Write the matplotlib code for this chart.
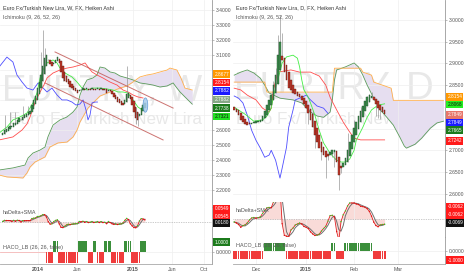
import numpy as np
import pandas as pd
import matplotlib
matplotlib.use('Agg')
import matplotlib.pyplot as plt
from matplotlib.patches import Ellipse
from matplotlib.ticker import FormatStrFormatter

plt.rcParams['font.family'] = ['Liberation Sans', 'DejaVu Sans']

W, H = 466, 275

# ---------------- weekly chart (bar 0 = week of 2013-08-19) ----------------
w_start = '2013-08-19'
w_close = [2.58, 2.60, 2.61, 2.62, 2.63, 2.63, 2.65, 2.65, 2.67, 2.68,
           2.67, 2.69, 2.70, 2.71, 2.72, 2.73, 2.77, 2.80, 2.83, 2.88,
           2.92, 2.97, 3.03, 3.08, 3.10, 3.07, 3.04, 3.03, 3.05, 3.07,
           3.09, 3.05, 2.99, 2.95, 2.93, 2.92, 2.91, 2.89, 2.88, 2.87,
           2.86, 2.85, 2.87, 2.87, 2.88, 2.87, 2.88, 2.87, 2.87, 2.88,
           2.87, 2.87, 2.88, 2.87, 2.88, 2.87, 2.87, 2.85, 2.87, 2.86,
           2.84, 2.82, 2.81, 2.79, 2.78, 2.77, 2.77, 2.80, 2.84, 2.85,
           2.81, 2.77, 2.72, 2.68, 2.67, 2.71, 2.75, 2.77, 2.78]
w_high = {1: 2.70, 4: 2.72, 7: 2.72, 11: 2.76, 14: 2.76, 21: 3.12, 22: 3.27,
          23: 3.15, 68: 3.03}
w_low = {33: 2.93, 73: 2.645, 74: 2.63}

w_red_x = [-2, 5.6, 10.6, 13.3, 15, 16.6, 18.3, 20.5, 22.6, 24.3, 27.6, 31.4, 35.3,
           38.6, 42.4, 45.2, 46.8, 49, 51.7, 55, 58.9, 62.7, 66, 68.8, 71.5, 74.2, 77]
w_red_y = [2.536, 2.556, 2.602, 2.642, 2.689, 2.748, 2.802, 2.855, 2.901, 2.948, 2.981,
           3.001, 3.014, 3.021, 3.034, 3.048, 3.021, 2.988, 2.968, 2.948, 2.921, 2.901,
           2.868, 2.855, 2.835, 2.822, 2.815]
w_lime_x = [-2, 2.3, 5.6, 9.5, 13.3, 16.6, 18.8, 20.5, 22.1, 24.3, 27.6, 29.8, 31.4, 34.2,
            38, 40.8, 43.5, 46.3, 49.5, 53.4, 57.2, 60.5, 63.3, 66, 68.8, 71.5, 74.2, 77]
w_lime_y = [2.582, 2.622, 2.669, 2.689, 2.715, 2.782, 2.848, 2.948, 3.001, 3.048, 3.068,
            3.048, 3.014, 2.981, 2.955, 2.921, 2.881, 2.868, 2.881, 2.881, 2.875, 2.868,
            2.855, 2.855, 2.848, 2.802, 2.755, 2.732]
w_blue_x = [-2, 2.3, 5.6, 7.8, 10.6, 13.3, 16.6, 19.4, 21.6, 24.3, 27, 29.8, 32.5, 35.3,
            38, 40.2, 42.4, 44.1, 45.7, 46.8, 47.9, 49, 50.7, 52]
w_blue_y = [3.021, 3.087, 3.054, 2.968, 2.921, 2.881, 2.868, 2.915, 2.888, 2.855, 2.881,
            2.835, 2.802, 2.802, 2.788, 2.768, 2.775, 2.802, 2.735, 2.669, 2.702, 2.782,
            2.788, 2.788]
w_spanA_x = [-2, 5.6, 12.2, 13.9, 16.6, 20.5, 23.2, 24.8, 27.6, 31.4, 35.3, 38.6, 40.8,
             42.4, 44.1, 46.3, 49.5, 51.7, 53.4, 56.1, 58.9, 61.6, 64.4, 68.2, 71.5, 75.3,
             79.2, 82.5, 86.3, 90.2, 93.5, 95.6, 97.3, 100, 104]
w_spanA_y = [2.336, 2.350, 2.369, 2.416, 2.449, 2.469, 2.489, 2.556, 2.635, 2.669, 2.689,
             2.722, 2.755, 2.835, 2.888, 2.935, 2.948, 2.968, 3.021, 3.014, 2.988, 2.981,
             2.961, 2.948, 2.935, 2.915, 2.908, 2.901, 2.888, 2.895, 2.915, 2.881, 2.855,
             2.822, 2.774]
w_spanB_x = [-2, 2.3, 11.1, 13.3, 15, 17.7, 23.2, 25.9, 30.3, 35.3, 38.6, 40.8, 42.4, 44.6,
             46.8, 49.5, 53.4, 58.9, 64.4, 68.2, 71.5, 75.3, 79.2, 82.5, 86.3, 90.2, 91.8,
             95.6, 97.8, 100, 104]
w_spanB_y = [2.303, 2.290, 2.283, 2.316, 2.356, 2.389, 2.423, 2.489, 2.516, 2.522, 2.556,
             2.602, 2.655, 2.702, 2.748, 2.782, 2.828, 2.855, 2.881, 2.895, 2.921, 2.955,
             2.968, 2.975, 2.988, 3.001, 3.014, 3.001, 2.948, 2.881, 2.868]
w_chan_up = ([28.7, 93.5], [3.121, 2.748])
w_chan_lo = ([23.2, 88.0], [2.915, 2.536])
w_ellipse = (78.3, 2.768)

w_haco = [0, 0, 0, 0, 0, 0, 0, 0, 0, 0, 0, 0, 0, 0, 0, 0, 0, 0, 0, 0, 0, 0, 0, 0,
          -1, -1, -1, -1, 1, 1, 1, -1, -1, -1, -1, -1, -1, -1, -1, -1, -1, -1,
          1, 1, 1, 1, 1, -1, -1, -1, 1, 1, -1, -1, -1, -1, 1, 1, 1, 1,
          -1, -1, -1, -1, -1, -1, -1, 1, 1, 1, 1, -1, -1, -1, -1, -1, 1, 1, 1]

w_tick_dates = ['2014-01-01', '2014-06-01', '2015-01-01', '2015-06-01', '2015-10-01']
w_tick_labels = ['2014', 'Jun', '2015', 'Jun', 'Oct']
w_price_ticks = [2.2, 2.3, 2.4, 2.5, 2.6, 3.1, 3.2, 3.3, 3.4]
w_hidden_ticks = [2.7, 2.8, 2.9, 3.0]
w_boxes = [('2.8677', '#ff9800', 'white'), ('2.8154', '#ff1a1a', 'white'),
           ('2.7882', '#1a1aff', 'white'), ('2.7882', '#86a886', 'white'),
           ('2.7738', '#1b7a1b', 'white'), ('2.7321', '#22e022', '#111')]
w_hd_boxes = [('0.0549', '#ff1a1a', 'white'), ('0.0545', '#ff1a1a', 'white'),
              ('0.0180', '#111111', 'white')]

# ---------------- daily chart (bar 0 = 2014-11-17, business days) ----------------
d_start = '2014-11-17'
d_close = [2.793, 2.788, 2.781, 2.770, 2.765, 2.760, 2.758, 2.760, 2.763, 2.765,
           2.765, 2.767, 2.770, 2.779, 2.790, 2.804, 2.816, 2.827, 2.850, 2.873,
           2.919, 2.949, 2.908, 2.880, 2.862, 2.843, 2.839, 2.832, 2.829, 2.825,
           2.822, 2.816, 2.806, 2.797, 2.786, 2.770, 2.753, 2.735, 2.719, 2.705,
           2.696, 2.689, 2.684, 2.687, 2.696, 2.700, 2.700, 2.673, 2.643, 2.659,
           2.670, 2.682, 2.700, 2.719, 2.735, 2.751, 2.765, 2.779, 2.790, 2.802,
           2.813, 2.822, 2.827, 2.825, 2.816, 2.806, 2.797, 2.793, 2.788, 2.783]
d_high = {18: 2.86, 19: 2.89, 20: 2.965, 21: 3.011, 22: 2.97, 23: 2.91, 24: 2.88,
          34: 2.80, 36: 2.79, 52: 2.74, 55: 2.77, 58: 2.80, 61: 2.825, 62: 2.83, 63: 2.835}
d_low = {34: 2.76, 37: 2.705, 40: 2.677, 42: 2.636, 43: 2.677, 45: 2.684, 46: 2.661,
         48: 2.608, 49: 2.647, 65: 2.78, 66: 2.775, 67: 2.772}

d_red_x = [0, 3, 6, 10, 13, 16, 17, 18, 20, 26, 30, 35, 39, 42, 44, 47, 50, 53, 55, 58, 64, 69]
d_red_y = [2.843, 2.839, 2.827, 2.816, 2.797, 2.788, 2.797, 2.839, 2.880, 2.885, 2.880,
           2.880, 2.871, 2.850, 2.822, 2.793, 2.765, 2.742, 2.728, 2.724, 2.724, 2.724]
d_blue_x = [0, 2, 4, 6, 8, 10, 12, 14, 16, 17, 19, 21, 22, 24, 25, 27, 28, 31, 33, 35,
            38, 41, 43]
d_blue_y = [2.825, 2.820, 2.809, 2.781, 2.746, 2.723, 2.705, 2.684, 2.689, 2.700, 2.677,
            2.636, 2.659, 2.707, 2.753, 2.793, 2.816, 2.822, 2.827, 2.816, 2.802, 2.797,
            2.785]
d_lime_x = [0, 5, 9, 13, 15, 17, 18, 20, 22, 24, 27, 29, 30, 31, 32, 34, 35, 37, 39, 41,
            44, 47, 49, 51, 53, 55, 56, 59, 61, 63, 66, 69]
d_lime_y = [2.799, 2.783, 2.767, 2.770, 2.779, 2.797, 2.825, 2.862, 2.901, 2.915, 2.919,
            2.912, 2.892, 2.862, 2.839, 2.822, 2.809, 2.781, 2.746, 2.717, 2.693, 2.677,
            2.673, 2.673, 2.680, 2.700, 2.723, 2.753, 2.776, 2.793, 2.804, 2.807]
d_spanA_x = [0, 3, 6, 9, 12, 14, 16, 21, 27, 31, 35, 38, 41, 44, 45, 46, 47, 51, 55, 57,
             59, 61, 64, 67, 70, 73, 76, 78, 79, 83, 86, 90, 93, 96]
d_spanA_y = [2.873, 2.880, 2.885, 2.878, 2.866, 2.850, 2.832, 2.820, 2.816, 2.809, 2.788,
             2.779, 2.776, 2.788, 2.816, 2.862, 2.885, 2.892, 2.901, 2.892, 2.873, 2.850,
             2.820, 2.793, 2.776, 2.758, 2.730, 2.710, 2.705, 2.714, 2.728, 2.751, 2.763,
             2.767]
d_spanB_x = [0, 14, 15, 45, 46, 58, 59, 63, 64, 72, 73, 96]
d_spanB_y = [2.857, 2.857, 2.834, 2.834, 2.889, 2.889, 2.880, 2.873, 2.857, 2.843, 2.815,
             2.815]

d_haco = [-1, -1, -1, -1, -1, -1, -1, -1, -1, -1, -1, -1, -1, -1,
          1, 1, 1, 1, 1, 1, 1, 1, 1, 1,
          -1, -1, -1, -1, -1, -1, -1, -1, -1, -1, -1, -1, -1, -1, -1, -1, -1, -1, -1, -1, -1,
          1, 1, -1, -1, -1, -1,
          1, 1, 1, 1, 1, 1, 1, 1, 1, 1, 1, 1, 1,
          -1, -1, -1, -1, -1, -1]

d_tick_dates = ['2014-12-01', '2015-01-01', '2015-02-02', '2015-03-02']
d_tick_labels = ['Dec', '2015', 'Feb', 'Mar']
d_price_ticks = [2.60, 2.65, 2.70, 2.85, 2.90, 2.95, 3.00]
d_hidden_ticks = [2.75, 2.80]
d_boxes = [('2.8154', '#ff9800', 'white'), ('2.8068', '#22ee22', '#111'),
           ('2.7849', '#e8766a', 'white'), ('2.7849', '#1a1aff', 'white'),
           ('2.7665', '#1b7a1b', 'white'), ('2.7242', '#ff1a1a', 'white')]
d_hd_boxes = [('-0.0062', '#ff1a1a', 'white'), ('-0.0062', '#ff1a1a', 'white'),
              ('-0.0069', '#111111', 'white')]

GREEN = '#3e8e4e'
RED = '#c4392a'
CLOUD = '#e6def0'
GRID = '#efefef'


def px_axes(x0, y0, x1, y1):
    ax = fig.add_axes([x0 / W, 1 - y1 / H, (x1 - x0) / W, (y1 - y0) / H])
    for s in ('top', 'left'):
        ax.spines[s].set_visible(False)
    ax.spines['right'].set_color('#9a9a9a')
    ax.spines['bottom'].set_color('#a8a8a8')
    ax.spines['right'].set_linewidth(0.6)
    ax.spines['bottom'].set_linewidth(0.6)
    ax.yaxis.tick_right()
    ax.tick_params(axis='y', labelsize=3.6, length=1.5, width=0.4, pad=1,
                   colors='#8a8a8a', labelcolor='#555555')
    ax.tick_params(axis='x', length=0, labelsize=3.8, labelcolor='#555555', pad=2)
    ax.set_facecolor('white')
    return ax


def price_axis(ax, shown, hidden):
    # price levels hidden under the value boxes keep only their grid line
    ax.set_yticks(shown)
    ax.yaxis.set_major_formatter(FormatStrFormatter('%.4f'))
    for v in hidden:
        ax.axhline(v, color=GRID, lw=0.5, zorder=0)


def ha_opens(closes, first_open):
    opens = [first_open]
    for i in range(1, len(closes)):
        opens.append((opens[-1] + closes[i - 1]) / 2)
    return np.array(opens)


def draw_candles(ax, closes, opens, hi, lo, width):
    c = np.array(closes)
    idx = np.arange(len(c))
    up = c >= opens
    bot = np.minimum(opens, c)
    top = np.maximum(opens, c)
    for i in idx:
        h = max(top[i], hi.get(i, top[i]))
        l = min(bot[i], lo.get(i, bot[i]))
        if h > top[i] or l < bot[i]:
            ax.vlines(i, l, h, color='#8c8c8c', lw=0.45, zorder=4)
    hgt = np.maximum(top - bot, 0.003)
    ax.bar(idx, hgt, bottom=bot, width=width,
           color=[GREEN if u else RED for u in up],
           edgecolor=['#1f4f2a' if u else '#5a1a12' for u in up],
           linewidth=0.3, zorder=5)


def price_boxes(ax, boxes, ypx, ax_h_px, ax_w_px, size=3.4):
    for (txt, fc, tc), y in zip(boxes, ypx):
        ax.text(1 + 2.5 / ax_w_px, 1 - y / ax_h_px, txt, transform=ax.transAxes,
                fontsize=size, color=tc, ha='left', va='center', zorder=20,
                clip_on=False,
                bbox=dict(boxstyle='square,pad=0.22', fc=fc, ec='none'))


def grid(ax, ticks):
    ax.set_xticks(ticks)
    ax.grid(True, axis='both', color=GRID, lw=0.5, zorder=0)


def hadelta_panel(ax, closes, opens, ylim):
    delta = np.array(closes) - opens
    sma = pd.Series(delta).rolling(3, min_periods=1).mean().values
    idx = np.arange(len(delta))
    ax.fill_between(idx, delta, 0, color='#f7cfcc', alpha=0.75, lw=0, zorder=1)
    ax.axhline(0, color='#9a9a9a', lw=0.5, ls=(0, (1, 1.5)), zorder=2)
    ax.plot(idx, sma, color='#707070', lw=0.7, zorder=3)
    ax.plot(idx, delta, color='#e02020', lw=0.6, zorder=4)
    rising = np.r_[True, np.diff(delta) >= 0]
    ax.scatter(idx, delta, s=0.9, c=np.where(rising, '#22dd22', '#e01010'),
               lw=0, zorder=5)
    ax.set_ylim(*ylim)
    ax.set_yticks([])


def haco_panel(ax, vals, ylim, width):
    v = np.array(vals)
    idx = np.arange(len(v))
    colors = np.where(v > 0, '#3b8f3b', '#f03c3c')
    m = v != 0
    ax.bar(idx[m], v[m], width=width, color=colors[m], edgecolor='none', zorder=3)
    ax.set_ylim(*ylim)


fig = plt.figure(figsize=(W / 100, H / 100), dpi=100)

# =============== LEFT: weekly ===============
w0 = pd.Timestamp(w_start)
w_ticks = [(pd.Timestamp(d) - w0).days / 7 for d in w_tick_dates]
w_xlim = (-1.5, 114.85)
w_open = ha_opens(w_close, w_close[0] - 0.01)

axL = px_axes(0, 0, 212, 207)
grid(axL, w_ticks)
axL.set_xticklabels([])
axL.set_xlim(*w_xlim)
axL.set_ylim(2.0902, 3.4665)
price_axis(axL, w_price_ticks, w_hidden_ticks)

axL.text(2 / 212, 1 - 91 / 207, 'EURTRY, W', transform=axL.transAxes, fontsize=26.5,
         color='#e8e8e8', ha='left', va='center', zorder=0.5)
axL.text(9 / 212, 1 - 120 / 207, 'Euro Fx/Turkish New Lira', transform=axL.transAxes,
         fontsize=12.3, color='#e8e8e8', ha='left', va='center', zorder=0.5)
axL.text(3 / 212, 1 - 8 / 207, 'Euro Fx/Turkish New Lira, W, FX, Heiken Ashi',
         transform=axL.transAxes, fontsize=3.9, color='#333333', va='center', zorder=20)
axL.text(3 / 212, 1 - 17 / 207, 'Ichimoku (9, 26, 52, 26)', transform=axL.transAxes,
         fontsize=3.9, color='#555555', va='center', zorder=20)

gx = np.linspace(w_spanA_x[0], w_spanA_x[-1], 400)
ga = np.interp(gx, w_spanA_x, w_spanA_y)
gb = np.interp(gx, w_spanB_x, w_spanB_y)
axL.fill_between(gx, ga, gb, color=CLOUD, lw=0, zorder=1)
axL.plot(w_spanA_x, w_spanA_y, color='#5a9a5a', lw=0.6, zorder=2)
axL.plot(w_spanB_x, w_spanB_y, color='#ffae4a', lw=0.6, zorder=2)
axL.plot(w_blue_x, w_blue_y, color='#4d4dff', lw=0.6, zorder=3)
axL.plot(w_red_x, w_red_y, color='#ff4d4d', lw=0.6, zorder=3)
axL.plot(w_lime_x, w_lime_y, color='#44ee44', lw=0.6, zorder=3)
draw_candles(axL, w_close, w_open, w_high, w_low, 0.72)
axL.plot(*w_chan_up, color='#c0504d', lw=0.7, alpha=0.8, zorder=6)
axL.plot(*w_chan_lo, color='#c0504d', lw=0.7, alpha=0.8, zorder=6)
axL.add_patch(Ellipse(w_ellipse, 2.6, 0.095, fc='#a9cbee', ec='#4f8fd0', lw=0.5,
                      alpha=0.85, zorder=7))
price_boxes(axL, w_boxes, [74, 82.5, 91, 99.5, 108, 116.5], 207, 212)

axLd = px_axes(0, 207, 212, 238)
grid(axLd, w_ticks)
axLd.set_xticklabels([])
axLd.set_xlim(*w_xlim)
hadelta_panel(axLd, w_close, w_open, (-0.22, 0.21))
axLd.text(3 / 212, 1 - 6 / 31, 'haDelta+SMA', transform=axLd.transAxes, fontsize=3.9,
          color='#555555', va='center', zorder=20)
price_boxes(axLd, w_hd_boxes, [2, 9, 16], 31, 212)

axLh = px_axes(0, 238, 212, 264)
grid(axLh, w_ticks)
axLh.set_xlim(*w_xlim)
haco_panel(axLh, w_haco, (-1.09, 1.27), 0.85)
axLh.plot([-1.5, 23.5], [0, 0], color='#f6b8b8', lw=0.6, zorder=2)
axLh.set_yticks([0])
axLh.yaxis.set_major_formatter(FormatStrFormatter('%.4f'))
axLh.set_xticklabels(w_tick_labels)
for lab in axLh.get_xticklabels():
    if lab.get_text().isdigit():
        lab.set_fontweight('bold')
axLh.text(3 / 212, 1 - 9 / 26, 'HACO_LB (26, 26, false)', transform=axLh.transAxes,
          fontsize=3.9, color='#555555', va='center', zorder=20)
price_boxes(axLh, [('1.0000', '#1b7a1b', 'white')], [4], 26, 212)

# =============== RIGHT: daily ===============
d0 = np.datetime64(d_start)
d_ticks = [int(np.busday_count(d0, np.datetime64(d))) for d in d_tick_dates]
d_xlim = (-0.55, 96.7)
d_open = ha_opens(d_close, d_close[0] + 0.006)

axR = px_axes(233, 0, 445, 202)
grid(axR, d_ticks)
axR.set_xticklabels([])
axR.set_xlim(*d_xlim)
axR.set_ylim(2.581, 3.046)
price_axis(axR, d_price_ticks, d_hidden_ticks)

axR.text(1 / 212, 1 - 89 / 202, 'EURTRY, D', transform=axR.transAxes, fontsize=27.5,
         color='#e8e8e8', ha='left', va='center', zorder=0.5)
axR.text(3 / 212, 1 - 119 / 202, 'Euro Fx/Turkish New Lira', transform=axR.transAxes,
         fontsize=12.3, color='#e8e8e8', ha='left', va='center', zorder=0.5)
axR.text(3 / 212, 1 - 8 / 202, 'Euro Fx/Turkish New Lira, D, FX, Heiken Ashi',
         transform=axR.transAxes, fontsize=3.9, color='#333333', va='center', zorder=20)
axR.text(3 / 212, 1 - 17 / 202, 'Ichimoku (9, 26, 52, 26)', transform=axR.transAxes,
         fontsize=3.9, color='#555555', va='center', zorder=20)

gx = np.linspace(d_spanA_x[0], d_spanA_x[-1], 400)
ga = np.interp(gx, d_spanA_x, d_spanA_y)
gb = np.interp(gx, d_spanB_x, d_spanB_y)
axR.fill_between(gx, ga, gb, color=CLOUD, lw=0, zorder=1)
axR.plot(d_spanA_x, d_spanA_y, color='#5a9a5a', lw=0.6, zorder=2)
axR.plot(d_spanB_x, d_spanB_y, color='#ffae4a', lw=0.6, zorder=2)
axR.plot(d_blue_x, d_blue_y, color='#4d4dff', lw=0.6, zorder=3)
axR.plot(d_red_x, d_red_y, color='#ff4d4d', lw=0.6, zorder=3)
axR.plot(d_lime_x, d_lime_y, color='#44ee44', lw=0.6, zorder=3)
draw_candles(axR, d_close, d_open, d_high, d_low, 0.75)
price_boxes(axR, d_boxes, [97, 104.5, 115, 122.5, 130, 141], 202, 212)

axRd = px_axes(233, 202, 445, 237)
grid(axRd, d_ticks)
axRd.set_xticklabels([])
axRd.set_xlim(*d_xlim)
hadelta_panel(axRd, d_close, d_open, (-0.036, 0.034))
axRd.text(3 / 212, 1 - 8 / 35, 'haDelta+SMA', transform=axRd.transAxes, fontsize=3.9,
          color='#555555', va='center', zorder=20)
price_boxes(axRd, d_hd_boxes, [5, 13, 21], 35, 212)

axRh = px_axes(233, 237, 445, 264)
grid(axRh, d_ticks)
axRh.set_xlim(*d_xlim)
haco_panel(axRh, d_haco, (-1.6, 1.75), 0.85)
axRh.set_yticks([0])
axRh.yaxis.set_major_formatter(FormatStrFormatter('%.4f'))
axRh.set_xticklabels(d_tick_labels)
for lab in axRh.get_xticklabels():
    if lab.get_text().isdigit():
        lab.set_fontweight('bold')
axRh.text(3 / 212, 1 - 9 / 27, 'HACO_LB (26, 26, false)', transform=axRh.transAxes,
          fontsize=3.9, color='#555555', va='center', zorder=20)
price_boxes(axRh, [('-1.0000', '#ff1a1a', 'white')], [23], 27, 212)

fig.savefig('out.png', dpi=100, facecolor='white')
